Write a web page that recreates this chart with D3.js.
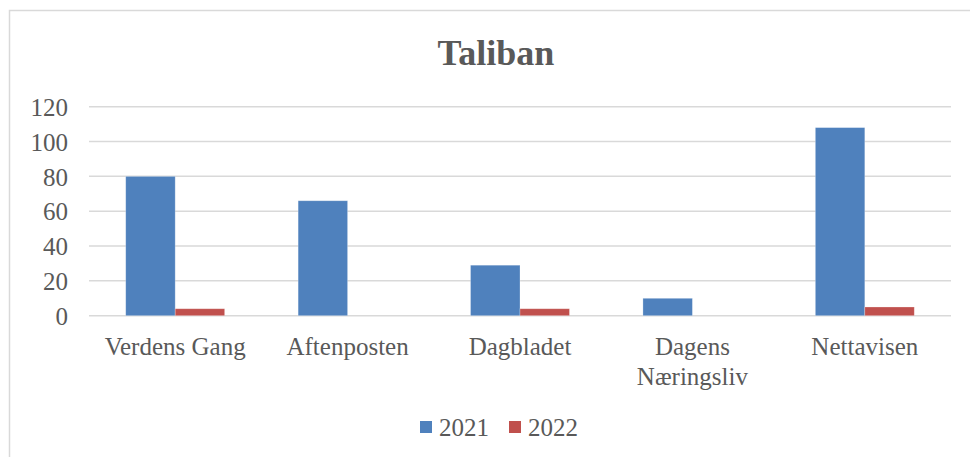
<!DOCTYPE html>
<html>
<head>
<meta charset="utf-8">
<script src="https://cdn.jsdelivr.net/npm/d3@7/dist/d3.min.js"></script>
<style>
  html, body { margin: 0; padding: 0; background: #fff; }
  svg { display: block; }
</style>
</head>
<body>
<svg id="chart" width="970" height="457"></svg>
<script>
const title = "Taliban";
const categories = ["Verdens Gang", "Aftenposten", "Dagbladet", "Dagens Næringsliv", "Nettavisen"];
const categoryLines = [["Verdens Gang"], ["Aftenposten"], ["Dagbladet"], ["Dagens", "Næringsliv"], ["Nettavisen"]];
const seriesNames = ["2021", "2022"];
const values2021 = [80, 66, 29, 10, 108];
const values2022 = [4, 0, 4, 0, 5];
const yTicks = [0, 20, 40, 60, 80, 100, 120];
const colors = ["#4F81BD", "#C0504D"];

const svg = d3.select("#chart");
const textColor = "#595959";
const font = "'Liberation Serif', 'Times New Roman', serif";
const labelSize = 25;

// chart frame
svg.append("rect")
  .attr("x", 9.5).attr("y", 10.5)
  .attr("width", 1000).attr("height", 1000)
  .attr("fill", "#fff").attr("stroke", "#D9D9D9").attr("stroke-width", 1.5);

// title
svg.append("text")
  .attr("x", 496).attr("y", 65)
  .attr("text-anchor", "middle")
  .attr("font-family", font).attr("font-weight", "bold")
  .attr("font-size", 36).attr("fill", textColor)
  .text(title);

const plotLeft = 89, plotRight = 951, plotTop = 106.7, plotBottom = 315.7;

const x0 = d3.scaleBand().domain(categories).range([plotLeft, plotRight]).paddingInner(0.4261).paddingOuter(0.213);
const x1 = d3.scaleBand().domain(seriesNames).range([0, x0.bandwidth()]);
const y = d3.scaleLinear().domain([0, 120]).range([plotBottom, plotTop]);

// gridlines
svg.append("g").selectAll("line").data(yTicks).join("line")
  .attr("x1", plotLeft).attr("x2", plotRight)
  .attr("y1", d => y(d)).attr("y2", d => y(d))
  .attr("stroke", "#D9D9D9").attr("stroke-width", 1.5);

// y axis labels
const yAxis = d3.axisLeft(y).tickValues(yTicks).tickSize(0).tickPadding(0);
const gy = svg.append("g").attr("transform", `translate(68,0)`).call(yAxis);
gy.select(".domain").remove();
gy.selectAll("text")
  .attr("font-family", font).attr("font-size", labelSize).attr("fill", textColor)
  .attr("dy", "0.35em");

// bars
const series = [values2021, values2022];
const table = categories.map((c, i) => ({ cat: c, vals: seriesNames.map((s, j) => ({ s, v: series[j][i], j })) }));
const groups = svg.append("g").selectAll("g").data(table).join("g")
  .attr("transform", d => `translate(${x0(d.cat)},0)`);
groups.selectAll("rect").data(d => d.vals.filter(v => v.v > 0)).join("rect")
  .attr("x", d => x1(d.s))
  .attr("width", x1.bandwidth())
  .attr("y", d => y(d.v))
  .attr("height", d => y(0) - y(d.v))
  .attr("fill", d => colors[d.j])
  .attr("stroke", "#fff").attr("stroke-opacity", 0.35).attr("stroke-width", 0.75);

// category labels
const xl = svg.append("g");
categories.forEach((c, i) => {
  const cx = x0(c) + x0.bandwidth() / 2;
  const t = xl.append("text")
    .attr("text-anchor", "middle")
    .attr("font-family", font).attr("font-size", labelSize).attr("fill", textColor)
    .attr("x", cx).attr("y", 355);
  categoryLines[i].forEach((line, k) => {
    t.append("tspan").attr("x", cx).attr("dy", k === 0 ? 0 : 30).text(line);
  });
});

// legend
const legendX = [420, 509];
const leg = svg.append("g");
seriesNames.forEach((s, i) => {
  leg.append("rect").attr("x", legendX[i]).attr("y", 421).attr("width", 12).attr("height", 12).attr("fill", colors[i]);
  leg.append("text").attr("x", legendX[i] + 19).attr("y", 427).attr("dy", "0.35em")
    .attr("font-family", font).attr("font-size", labelSize).attr("fill", textColor).text(s);
});
</script>
</body>
</html>
